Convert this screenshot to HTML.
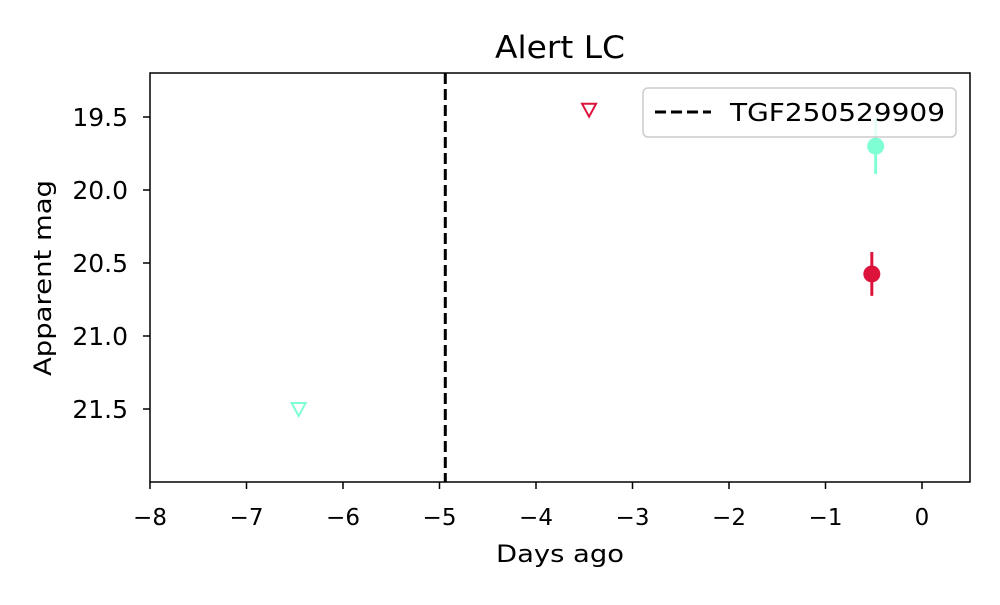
<!DOCTYPE html>
<html><head><meta charset="utf-8"><style>
body{margin:0;background:#fff}
svg text{font-family:"DejaVu Sans","Liberation Sans",sans-serif;fill:#000}
</style></head><body>
<svg width="1000" height="600" xmlns="http://www.w3.org/2000/svg">
<rect width="1000" height="600" fill="#fff"/>
<text x="560" y="58" font-size="31" text-anchor="middle" textLength="130" lengthAdjust="spacingAndGlyphs">Alert LC</text>
<g id="xticks"></g><g id="yticks"></g>
<g id="marks"></g>
<rect x="150" y="73" width="820" height="409" fill="none" stroke="#000" stroke-width="1.5"/>
<g>
<rect x="643" y="88" width="313" height="49" rx="5" fill="#fff" fill-opacity="0.8" stroke="#ccc" stroke-width="1.5"/>
<line x1="655" y1="112" x2="711" y2="112" stroke="#000" stroke-width="3" stroke-dasharray="11,5"/>
<text x="730" y="121" font-size="25" textLength="215" lengthAdjust="spacingAndGlyphs">TGF250529909</text>
</g>
<text x="560" y="562" font-size="24" text-anchor="middle" textLength="128" lengthAdjust="spacingAndGlyphs">Days ago</text>
<text x="51" y="278" font-size="24" text-anchor="middle" textLength="196" lengthAdjust="spacingAndGlyphs" transform="rotate(-90 51 278)">Apparent mag</text>
</svg>
<script>
const xTicks=[-8,-7,-6,-5,-4,-3,-2,-1,0];
const yTicks=[19.5,20.0,20.5,21.0,21.5];
const eventDay=[-4.94];
const limitDays=[-3.45,-6.46];
const limitMags=[19.45,21.5];
const limitColors=["#dc143c","#7fffd4"];
const detDays=[-0.48,-0.52];
const detMags=[19.70,20.575];
const detErrs=[0.19,0.15];
const detColors=["#7fffd4","#dc143c"];
const NS="http://www.w3.org/2000/svg";
const X=v=>150+(v+8)*96.5;
const Y=m=>117+(m-19.5)*146;
function mk(tag,attrs,parent){const e=document.createElementNS(NS,tag);for(const k in attrs)e.setAttribute(k,attrs[k]);parent.appendChild(e);return e;}
const xt=document.getElementById('xticks'),yt=document.getElementById('yticks'),mg=document.getElementById('marks');
xTicks.forEach(t=>{const x=X(t);
const l=mk('line',{x1:x,y1:482,x2:x,y2:489,stroke:'#000','stroke-width':1.5},xt);


const s=mk('text',{x:x,y:525,'font-size':23,'text-anchor':'middle'},xt);s.textContent=(t<0?'\u2212'+(-t):t);

});
yTicks.forEach(t=>{const y=Y(t);
const l=mk('line',{x1:143,y1:y,x2:150,y2:y,stroke:'#000','stroke-width':1.5},yt);


const s=mk('text',{x:128,y:y+9,'font-size':25,'text-anchor':'end'},yt);s.textContent=t.toFixed(1);

});
eventDay.forEach(d=>{const l=mk('line',{x1:X(d),y1:73,x2:X(d),y2:482,stroke:'#000','stroke-width':3,'stroke-dasharray':'11,5'},mg);

});
limitDays.forEach((d,i)=>{const x=X(d),y=Y(limitMags[i]);
const p=mk('polygon',{points:`${x-7},${y-6} ${x+7},${y-6} ${x},${y+7}`,fill:'none',stroke:limitColors[i],'stroke-width':2},mg);

});
detDays.forEach((d,i)=>{const x=X(d),y=Y(detMags[i]);
const e=mk('line',{x1:x,y1:Y(detMags[i]-detErrs[i]),x2:x,y2:Y(detMags[i]+detErrs[i]),stroke:detColors[i],'stroke-width':3},mg);


const c=mk('circle',{cx:x,cy:y,r:8.5,fill:detColors[i]},mg);

});
</script>
</body></html>
